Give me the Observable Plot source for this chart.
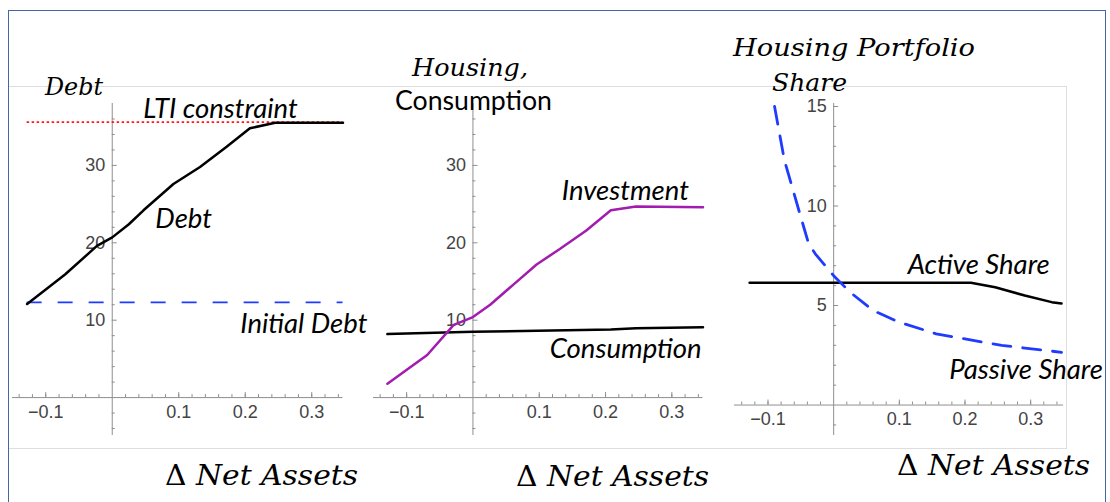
<!DOCTYPE html>
<html><head><meta charset="utf-8">
<script src="https://cdn.jsdelivr.net/npm/d3@7"></script>
<script src="https://cdn.jsdelivr.net/npm/@observablehq/plot@0.6"></script>
<style>
body{margin:0;background:#fff;}
#c{position:relative;width:1110px;height:502px;overflow:hidden;background:#fff;}
#c svg{position:absolute;left:0;top:0;}
#outer{position:absolute;left:8px;top:10px;width:1098px;height:520px;border:1.5px solid #4565a5;box-sizing:border-box;}
#frame{position:absolute;left:9px;top:86px;width:1058px;height:363px;border:1px solid #dedede;border-left:none;box-sizing:border-box;}
</style></head>
<body><div id="c"><div id="outer"></div><div id="frame"></div></div>
<script>
// ---------- data ----------
const debtX  = [-0.128, -0.071, -0.023, 0, 0.025, 0.047, 0.092, 0.132, 0.172, 0.207, 0.245, 0.347];
const debtY  = [12.1, 15.9, 19.6, 20.7, 22.4, 24.2, 27.6, 29.8, 32.4, 34.8, 35.5, 35.5];
const ltiConstraint = 35.6;
const initialDebt = 12.3;

const investX = [-0.129, -0.069, -0.029, 0, 0.026, 0.061, 0.096, 0.131, 0.171, 0.208, 0.246, 0.347];
const investY = [1.8, 5.5, 9.4, 10.4, 12.0, 14.6, 17.2, 19.2, 21.6, 24.2, 24.7, 24.6];
const consX   = [-0.129, 0, 0.208, 0.246, 0.347];
const consY   = [8.2, 8.5, 8.8, 8.95, 9.1];

const activeX  = [-0.128, 0.209, 0.246, 0.291, 0.332, 0.347];
const activeY  = [6.14, 6.14, 5.92, 5.5, 5.17, 5.1];
const passiveX = [-0.09, -0.075, -0.05, -0.038, -0.028, 0, 0.025, 0.06, 0.1, 0.156, 0.2, 0.256, 0.347];
const passiveY = [15.0, 12.3, 9.44, 8.1, 7.6, 6.5, 5.67, 4.75, 4.16, 3.58, 3.32, 3.0, 2.65];

const xTickValues = [-0.1, 0.1, 0.2, 0.3];
const xTickLabels = ["\u22120.1", "0.1", "0.2", "0.3"];
const yTicks1 = [10, 20, 30];
const yTickLabels1 = ["10", "20", "30"];
const yTicks3 = [5, 10, 15];
const yTickLabels3 = ["5", "10", "15"];

const ann1 = [{x: 0.0466, y: 36.1, t: "LTI constraint"}, {x: 0.0647, y: 21.95, t: "Debt"}, {x: 0.1925, y: 8.3, t: "Initial Debt"}];
const ann2 = [{x: 0.134, y: 25.5, t: "Investment"}, {x: 0.116, y: 5.1, t: "Consumption"}];
const ann3 = [{x: 0.1127, y: 6.6, t: "Active Share"}, {x: 0.176, y: 1.33, t: "Passive Share"}];

// ---------- helpers ----------
const AX = "#8f8f8f";
const rows = (xs, ys) => xs.map((x, i) => ({x, y: ys[i]}));
const annFont = {fontFamily: "Lato", fontStyle: "italic", fontSize: 27.5, fill: "#000", textAnchor: "start", lineAnchor: "bottom"};

function axes({yMinor, yMajor, yLabels, xLabelDy}) {
  const xMinor = d3.range(-0.14, 0.345, 0.02).map(v => +v.toFixed(2)).filter(v => Math.abs(v) > 1e-9);
  return [
    Plot.ruleY([0], {stroke: AX, strokeWidth: 1}),
    Plot.ruleX([0], {stroke: AX, strokeWidth: 1}),
    Plot.ruleX(xMinor, {x: d => d, y1: 0, y2: 0, insetTop: -3, stroke: AX}),
    Plot.ruleX(xTickValues, {x: d => d, y1: 0, y2: 0, insetTop: -5, stroke: AX}),
    Plot.ruleY(yMinor, {y: d => d, x1: 0, x2: 0, insetRight: -3, stroke: AX}),
    Plot.ruleY(yMajor, {y: d => d, x1: 0, x2: 0, insetRight: -5, stroke: AX}),
    Plot.text(xTickValues, {x: d => d, y: 0, text: (d, i) => xTickLabels[i], dy: xLabelDy, fontSize: 18, fill: "#444", fontFamily: "Liberation Sans"}),
    Plot.text(yMajor, {x: 0, y: d => d, text: (d, i) => yLabels[i], dx: -7, textAnchor: "end", fontSize: 18, fill: "#444", fontFamily: "Liberation Sans"})
  ];
}
const base = {width: 1110, height: 502, style: {background: "transparent", overflow: "visible"}};

// ---------- panel 1: Debt ----------
const p1 = Plot.plot({...base,
  marginLeft: 12, marginRight: 767.5, marginTop: 103, marginBottom: 67,
  x: {domain: [-0.15, 0.347], axis: null},
  y: {domain: [-4.9, 38], axis: null},
  marks: [
    ...axes({yMinor: d3.range(-4, 38, 2).filter(v => v % 10 !== 0), yMajor: yTicks1, yLabels: yTickLabels1, xLabelDy: 15}),
    Plot.ruleY([initialDebt], {x1: -0.128, x2: 0.347, stroke: "#1f3bff", strokeWidth: 1.8, strokeDasharray: "15,16"}),
    Plot.ruleY([ltiConstraint], {x1: -0.128, x2: 0.347, stroke: "#ff1a1a", strokeWidth: 1.8, strokeDasharray: "2.5,2.5"}),
    Plot.line(rows(debtX, debtY), {x: "x", y: "y", stroke: "#000", strokeWidth: 2.5}),
    Plot.text(ann1, {x: "x", y: "y", text: "t", ...annFont})
  ]
});

// ---------- panel 2: Housing, Consumption ----------
const p2 = Plot.plot({...base,
  marginLeft: 373, marginRight: 407.5, marginTop: 103, marginBottom: 67,
  x: {domain: [-0.15, 0.347], axis: null},
  y: {domain: [-4.9, 38], axis: null},
  marks: [
    ...axes({yMinor: d3.range(-4, 38, 2).filter(v => v % 10 !== 0), yMajor: yTicks1, yLabels: yTickLabels1, xLabelDy: 15}),
    Plot.line(rows(consX, consY), {x: "x", y: "y", stroke: "#000", strokeWidth: 2.5}),
    Plot.line(rows(investX, investY), {x: "x", y: "y", stroke: "#a11caf", strokeWidth: 2.5}),
    Plot.text(ann2, {x: "x", y: "y", text: "t", ...annFont})
  ]
});

// ---------- panel 3: Housing Portfolio Share ----------
const p3 = Plot.plot({...base,
  marginLeft: 734, marginRight: 47, marginTop: 103, marginBottom: 67,
  x: {domain: [-0.151, 0.35], axis: null},
  y: {domain: [-1.53, 15.15], axis: null},
  marks: [
    ...axes({yMinor: d3.range(-1, 16, 1).filter(v => v % 5 !== 0), yMajor: yTicks3, yLabels: yTickLabels3, xLabelDy: 14}),
    Plot.line(rows(activeX, activeY), {x: "x", y: "y", stroke: "#000", strokeWidth: 2.5}),
    Plot.line(rows(passiveX, passiveY), {x: "x", y: "y", stroke: "#1f3bff", strokeWidth: 2.8, strokeDasharray: "18,12"}),
    Plot.text(ann3, {x: "x", y: "y", text: "t", ...annFont})
  ]
});

const c = document.getElementById("c");
c.append(p1, p2, p3);

// ---------- headers and axis titles ----------
const titles = [
  {t: "Debt", x: 45, y: 95, size: 24, w: 58},
  {t: "Housing,", x: 412, y: 76, size: 25, w: 116},
  {t: "Housing Portfolio", x: 733, y: 56, size: 25, w: 242},
  {t: "Share", x: 772, y: 91, size: 25, w: 75}
];
const xTitles = [{x: 165, y: 485}, {x: 516, y: 486}, {x: 897, y: 475}];
const ov = d3.select(c).append("svg").attr("width", 1110).attr("height", 502).style("overflow", "visible");
ov.selectAll("text.t").data(titles).join("text").attr("class", "t")
  .attr("x", d => d.x).attr("y", d => d.y).attr("font-family", "DejaVu Serif").attr("font-style", "italic")
  .attr("font-size", d => d.size).attr("textLength", d => d.w).attr("lengthAdjust", "spacingAndGlyphs").text(d => d.t);
ov.append("text").attr("x", 395).attr("y", 110).attr("font-family", "Lato").attr("font-size", 26)
  .attr("textLength", 157).attr("lengthAdjust", "spacingAndGlyphs").text("Consumption");
xTitles.forEach(p => {
  const t = ov.append("text").attr("x", p.x).attr("y", p.y).attr("font-family", "DejaVu Serif").attr("font-size", 28)
    .attr("textLength", 193).attr("lengthAdjust", "spacingAndGlyphs");
  t.append("tspan").text("\u0394 ");
  t.append("tspan").attr("font-style", "italic").text("Net Assets");
});
</script></body></html>
